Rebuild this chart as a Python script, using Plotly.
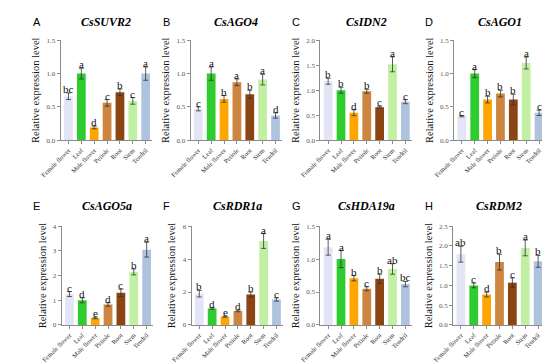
import plotly.graph_objects as go

tissues = ["Female flower", "Leaf", "Male flower", "Petiole", "Root", "Stem", "Tendril"]
colors = ["#E4E4F7", "#2ECC2E", "#FFA500", "#CD853F", "#8B4513", "#C2F0A2", "#AFC3DF"]

panel_letters = ["A", "B", "C", "D", "E", "F", "G", "H"]
genes = ["CsSUVR2", "CsAGO4", "CsIDN2", "CsAGO1", "CsAGO5a", "CsRDR1a", "CsHDA19a", "CsRDM2"]

suvr2 = [0.66, 1.0, 0.19, 0.56, 0.72, 0.59, 1.0]
suvr2_err = [0.05, 0.08, 0.02, 0.05, 0.05, 0.05, 0.1]
suvr2_sig = ["bc", "a", "d", "c", "b", "c", "a"]

ago4 = [0.47, 1.0, 0.62, 0.87, 0.69, 0.91, 0.37]
ago4_err = [0.03, 0.1, 0.05, 0.05, 0.06, 0.08, 0.04]
ago4_sig = ["c", "a", "b", "a", "b", "a", "d"]

idn2 = [1.18, 1.0, 0.55, 0.98, 0.66, 1.52, 0.77]
idn2_err = [0.06, 0.06, 0.06, 0.04, 0.02, 0.15, 0.04]
idn2_sig = ["b", "b", "d", "b", "c", "a", "c"]

ago1 = [0.36, 1.0, 0.61, 0.70, 0.61, 1.16, 0.41]
ago1_err = [0.01, 0.06, 0.05, 0.05, 0.08, 0.09, 0.04]
ago1_sig = ["c", "a", "b", "b", "b", "a", "c"]

ago5a = [1.25, 1.0, 0.28, 0.83, 1.3, 2.15, 3.05]
ago5a_err = [0.1, 0.1, 0.03, 0.07, 0.15, 0.12, 0.3]
ago5a_sig = ["c", "d", "e", "d", "c", "b", "a"]

rdr1a = [1.9, 1.0, 0.5, 0.85, 1.85, 5.1, 1.55]
rdr1a_err = [0.2, 0.05, 0.03, 0.05, 0.15, 0.45, 0.1]
rdr1a_sig = ["b", "d", "e", "d", "b", "a", "c"]

hda19a = [1.18, 1.0, 0.71, 0.55, 0.70, 0.85, 0.62]
hda19a_err = [0.12, 0.13, 0.04, 0.03, 0.07, 0.08, 0.04]
hda19a_sig = ["a", "a", "b", "c", "b", "ab", "bc"]

rdm2 = [1.79, 1.0, 0.77, 1.59, 1.07, 1.95, 1.61]
rdm2_err = [0.2, 0.06, 0.06, 0.2, 0.12, 0.2, 0.15]
rdm2_sig = ["ab", "c", "d", "b", "c", "a", "b"]

values = [suvr2, ago4, idn2, ago1, ago5a, rdr1a, hda19a, rdm2]
errors = [suvr2_err, ago4_err, idn2_err, ago1_err, ago5a_err, rdr1a_err, hda19a_err, rdm2_err]
sigs = [suvr2_sig, ago4_sig, idn2_sig, ago1_sig, ago5a_sig, rdr1a_sig, hda19a_sig, rdm2_sig]
ymax = [1.5, 1.5, 2.0, 1.5, 4, 6, 1.5, 2.5]
ydtick = [0.5, 0.5, 0.5, 0.5, 1, 2, 0.5, 0.5]
ytickfmt = [".1f", ".1f", ".1f", ".1f", "d", "d", ".1f", ".1f"]

W, H = 550, 363
# pixel layout
xpix = [(33, 128), (168, 263), (303, 398), (442, 537),
        (34, 129), (169, 264), (303, 398), (441, 536)]
ypix = [(29, 131)] * 4 + [(219, 320)] * 4
title_y = [10] * 4 + [198] * 4

serif = "Palatino Linotype, Book Antiqua, Palatino, Liberation Serif, serif"

fig = go.Figure()
layout = dict(width=W, height=H, margin=dict(l=0, r=0, t=0, b=0),
              paper_bgcolor="white", plot_bgcolor="white", showlegend=False,
              bargap=0.3)
annotations = []
for i in range(8):
    n = i + 1
    xa = "x" if n == 1 else f"x{n}"
    ya = "y" if n == 1 else f"y{n}"
    fig.add_trace(go.Bar(
        x=tissues, y=values[i], marker=dict(color=colors, line=dict(width=0)),
        error_y=dict(type="data", array=errors[i], symmetric=True,
                     color="#333333", thickness=0.8, width=2.5),
        xaxis=xa, yaxis=ya, width=0.68))
    x0, x1 = xpix[i]
    y0, y1 = ypix[i]
    layout[f"xaxis{n}"] = dict(
        domain=[x0 / W, x1 / W], anchor=ya, type="category",
        range=[-0.6, 6.5], showline=True, linecolor="#8c8c8c", linewidth=1,
        ticks="outside", ticklen=3, tickcolor="#8c8c8c", tickangle=-45,
        tickfont=dict(family=serif, size=6.5, color="#333333"), showgrid=False,
        zeroline=False, fixedrange=True)
    layout[f"yaxis{n}"] = dict(
        domain=[1 - y1 / H, 1 - y0 / H], anchor=xa, range=[0, ymax[i]],
        dtick=ydtick[i], tick0=0, tickformat=ytickfmt[i], showline=True,
        linecolor="#8c8c8c", linewidth=1, ticks="outside", ticklen=3,
        tickcolor="#8c8c8c", tickfont=dict(family=serif, size=7, color="#555555"),
        showgrid=False, zeroline=False,
        title=dict(text="Relative expression level", standoff=4,
                   font=dict(family=serif, size=10.5, color="#111111")))
    # significance letters
    for j, t in enumerate(tissues):
        annotations.append(dict(
            x=t, y=values[i][j] + errors[i][j], xref=xa, yref=ya,
            text=sigs[i][j], showarrow=False, yanchor="bottom", yshift=-4,
            font=dict(family=serif, size=11, color="#111111")))
    # gene title
    annotations.append(dict(
        x=(x0 + x1) / 2 / W, y=1 - title_y[i] / H, xref="paper", yref="paper",
        text=f"<b><i>{genes[i]}</i></b>", showarrow=False, xanchor="center",
        yanchor="middle", font=dict(family=serif, size=12, color="black")))
    # panel letter
    lx = [8, 143, 278, 416][i % 4]
    annotations.append(dict(
        x=lx / W, y=1 - title_y[i] / H, xref="paper", yref="paper",
        text=panel_letters[i], showarrow=False, xanchor="center",
        yanchor="middle", font=dict(family="Liberation Sans, Arial, sans-serif",
                                    size=11, color="black")))

layout["annotations"] = annotations
fig.update_layout(**layout)
fig.write_html("out.html")
